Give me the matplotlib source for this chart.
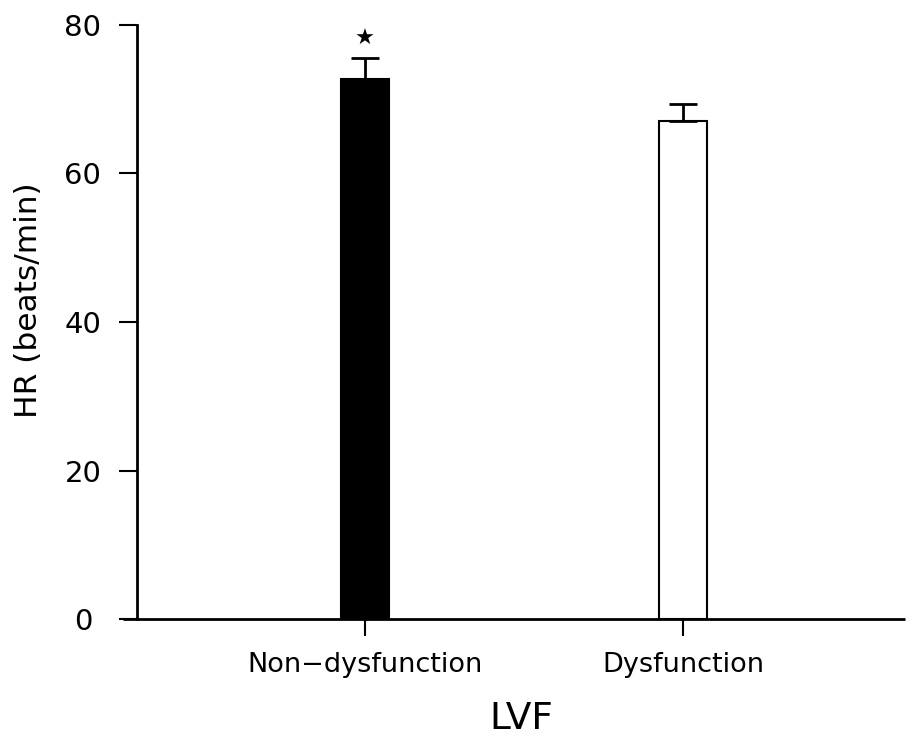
import matplotlib
matplotlib.use("Agg")
import matplotlib.pyplot as plt

categories = ["Non\u2212dysfunction", "Dysfunction"]
hr_mean = [72.7, 67.1]
hr_err = [2.9, 2.3]
bar_colors = ["black", "white"]
yticks = [0, 20, 40, 60, 80]

fig = plt.figure(figsize=(9.14, 7.41), dpi=100)
ax = fig.add_axes([0.1499, 0.1646, 0.8403, 0.8017])

x = list(range(len(categories)))
ax.bar(x, hr_mean, width=0.15, color=bar_colors, edgecolor="black", linewidth=1.5, zorder=2)
ax.errorbar(x, hr_mean, yerr=[[0, 0], hr_err], fmt="none", ecolor="black",
            elinewidth=2, capsize=10, capthick=2, zorder=3)

# significance star above the first bar
ax.text(x[0], hr_mean[0] + hr_err[0] + 2.5, "\u2605", ha="center", va="center", fontsize=16)

ax.set_xlim(-0.717, 1.698)
ax.set_ylim(0, 80)
ax.set_yticks(yticks)
ax.set_xticks(x)
ax.set_xticklabels(categories, fontsize=19.5)
ax.tick_params(axis="y", labelsize=21, length=13, width=1.5, pad=26)
ax.tick_params(axis="x", length=12, width=1.5, pad=11.5)
for lab in ax.get_yticklabels():
    lab.set_horizontalalignment("center")

ax.spines["top"].set_visible(False)
ax.spines["right"].set_visible(False)
ax.spines["left"].set_linewidth(2)
ax.spines["bottom"].set_linewidth(2)
ax.spines["bottom"].set_bounds(-0.717 - 0.045, 1.698)
ax.spines["bottom"].set_capstyle("butt")

ax.set_ylabel("HR (beats/min)", fontsize=22.5)
ax.yaxis.set_label_coords(-0.122, 0.537)
ax.set_xlabel("LVF", fontsize=27)
ax.xaxis.set_label_coords(0.5, -0.138)

fig.savefig("out.png", dpi=100)
